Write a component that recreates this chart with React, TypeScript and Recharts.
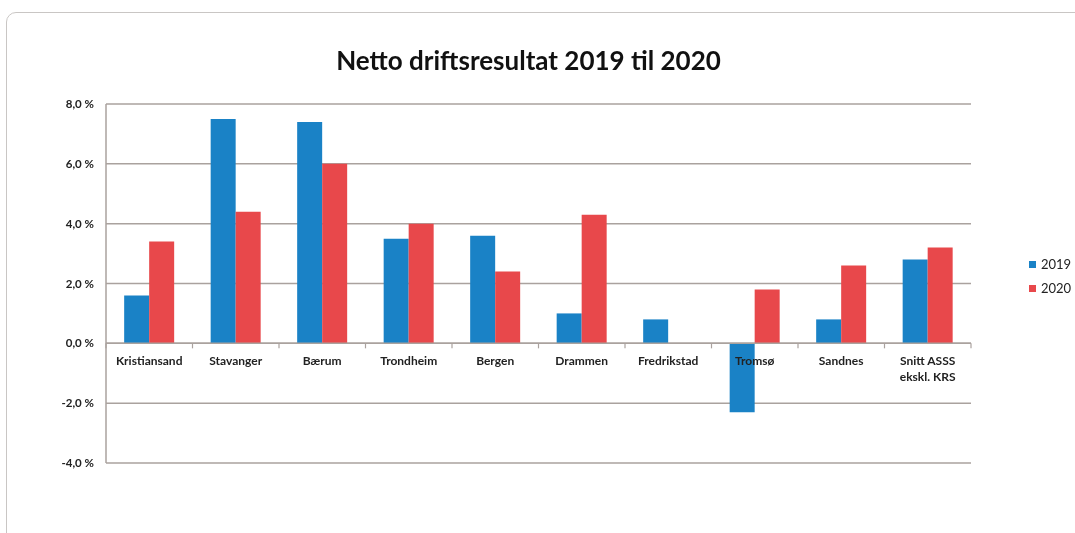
import React from "react";
import { BarChart, Bar, XAxis, YAxis, CartesianGrid, ReferenceLine, LabelList } from "recharts";

const categories = ["Kristiansand", "Stavanger", "Bærum", "Trondheim", "Bergen", "Drammen", "Fredrikstad", "Tromsø", "Sandnes", "Snitt ASSS\nekskl. KRS"];
const values2019 = [1.6, 7.5, 7.4, 3.5, 3.6, 1.0, 0.8, -2.3, 0.8, 2.8];
const values2020 = [3.4, 4.4, 6.0, 4.0, 2.4, 4.3, 0, 1.8, 2.6, 3.2];
const yTicks = [-4, -2, 0, 2, 4, 6, 8];
const seriesNames = ["2019", "2020"];

const data = categories.map((c, i) => ({ name: c, v2019: values2019[i], v2020: values2020[i] }));

const BLUE = "#1a82c6";
const RED = "#e8484b";
const GRID = "#aaa29e";
const FONT = "Lato, 'Open Sans', sans-serif";

const CHART_W = 1069;
const CHART_H = 521;
const M = { top: 91, left: 39, right: 105, bottom: 41 };
const YAXIS_W = 60;
const XAXIS_H = 30;
const PLOT_LEFT = M.left + YAXIS_W;
const PLOT_W = CHART_W - PLOT_LEFT - M.right;
const PLOT_H = CHART_H - M.top - M.bottom - XAXIS_H;
const Y_MIN = -4;
const Y_MAX = 8;
const ZERO_Y = M.top + (PLOT_H * Y_MAX) / (Y_MAX - Y_MIN);
const BAND = PLOT_W / categories.length;

const CatTick = (props: any) => {
  const { x, index } = props;
  return (
    <g>
      <line x1={x - BAND / 2} x2={x - BAND / 2} y1={ZERO_Y} y2={ZERO_Y + 5} stroke={GRID} strokeWidth={1.2} />
      {index === categories.length - 1 && (
        <line x1={x + BAND / 2} x2={x + BAND / 2} y1={ZERO_Y} y2={ZERO_Y + 5} stroke={GRID} strokeWidth={1.2} />
      )}
    </g>
  );
};

// category label drawn at the right edge of the 2019 bar (= centre of the category group)
const CatLabel = (props: any) => {
  const { x, width, value } = props;
  const cx = Number(x) + Number(width);
  const lines = String(value).split("\n");
  return (
    <text x={cx} y={ZERO_Y + 22} textAnchor="middle" fontFamily={FONT} fontWeight={700} fontSize={12} fill="#222">
      {lines.map((l, i) => (
        <tspan key={i} x={cx} dy={i === 0 ? 0 : 16}>{l}</tspan>
      ))}
    </text>
  );
};

const fmt = (v: number) => `${v.toFixed(1).replace(".", ",")} %`;

export default function App() {
  return (
    <div style={{ position: "fixed", left: 6, top: 12, width: 1069, height: 521, overflow: "hidden" }}>
      <div
        style={{
          position: "absolute",
          left: 0,
          top: 0,
          width: 1120,
          height: 560,
          border: "1.5px solid #c9c6c4",
          borderRadius: 10,
          boxSizing: "border-box",
          background: "#fff",
        }}
      >
        <div
          style={{
            position: "absolute",
            left: 0,
            width: 1043,
            top: 31,
            textAlign: "center",
            fontFamily: FONT,
            fontWeight: 700,
            fontSize: 26,
            color: "#111",
          }}
        >
          Netto driftsresultat 2019 til 2020
        </div>
        <div style={{ position: "absolute", left: 0, top: 0 }}>
          <BarChart width={CHART_W} height={CHART_H} data={data} margin={M} barCategoryGap="21%" barGap={0}>
            <CartesianGrid horizontal vertical={false} stroke={GRID} strokeWidth={1.5} />
            <XAxis
              dataKey="name"
              height={XAXIS_H}
              axisLine={false}
              tickLine={false}
              interval={0}
              tick={<CatTick />}
            />
            <YAxis
              width={YAXIS_W}
              domain={[Y_MIN, Y_MAX]}
              ticks={yTicks}
              tickFormatter={fmt}
              axisLine={{ stroke: GRID, strokeWidth: 1.5 }}
              tickLine={false}
              tickMargin={6}
              tick={{ fontFamily: FONT, fontWeight: 700, fontSize: 11.5, fill: "#222" }}
              interval={0}
            />
            <ReferenceLine y={0} stroke={GRID} strokeWidth={1.5} />
            <Bar dataKey="v2019" name="2019" fill={BLUE} isAnimationActive={false}>
              <LabelList dataKey="name" content={<CatLabel />} />
            </Bar>
            <Bar dataKey="v2020" name="2020" fill={RED} isAnimationActive={false} />
          </BarChart>
        </div>
        <div style={{ position: "absolute", left: 1022, top: 239, fontFamily: FONT, fontSize: 13, color: "#222" }}>
          {seriesNames.map((n, i) => (
            <div key={n} style={{ display: "flex", alignItems: "center", height: 24 }}>
              <span style={{ display: "inline-block", width: 7, height: 7, background: i === 0 ? BLUE : RED, marginRight: 5 }} />
              <span>{n}</span>
            </div>
          ))}
        </div>
      </div>
    </div>
  );
}
